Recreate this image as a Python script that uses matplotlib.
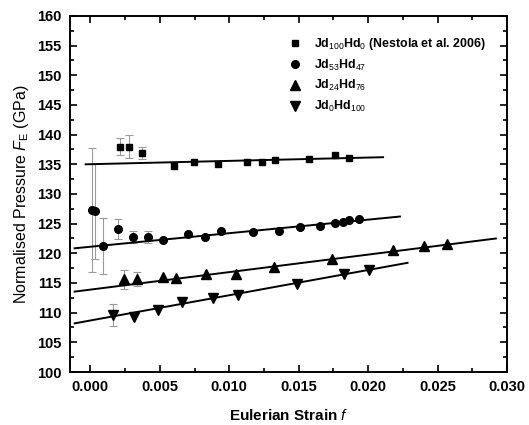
import matplotlib
matplotlib.use("Agg")
import matplotlib.pyplot as plt
from matplotlib.ticker import MultipleLocator
import numpy as np

plt.rcParams['font.family'] = ['Liberation Sans', 'DejaVu Sans']
plt.rcParams['mathtext.fontset'] = 'custom'
plt.rcParams['mathtext.rm'] = 'Liberation Sans'
plt.rcParams['mathtext.it'] = 'Liberation Sans:italic'
plt.rcParams['mathtext.bf'] = 'Liberation Sans:bold'

# ---- data ----
sq_x = [0.00211, 0.00278, 0.0037, 0.0060, 0.00744, 0.00922, 0.0113, 0.01237, 0.01333, 0.01573, 0.0176, 0.01859]
sq_y = [138.0, 138.0, 136.9, 134.7, 135.4, 135.05, 135.4, 135.4, 135.8, 135.9, 136.5, 136.1]
sq_err = [1.4, 2.0, 1.0, 0, 0, 0, 0, 0, 0, 0, 0, 0]

ci_x = [0.00012, 0.00036, 0.00091, 0.00199, 0.00307, 0.00415, 0.00523, 0.00701, 0.00829, 0.00939,
        0.0117, 0.01357, 0.01508, 0.01652, 0.01758, 0.01818, 0.01866, 0.01938]
ci_y = [127.3, 127.1, 121.2, 124.1, 122.8, 122.75, 122.25, 123.25, 122.8, 123.8,
        123.65, 123.7, 124.5, 124.6, 125.1, 125.2, 125.6, 125.8]
ci_err = [10.4, 8.0, 4.7, 1.7, 1.0, 1.0, 0, 0, 0, 0, 0, 0, 0, 0, 0, 0, 0, 0]

up_x = [0.00242, 0.00336, 0.00526, 0.0062, 0.00836, 0.01047, 0.01321, 0.01741, 0.02176, 0.02402, 0.0257]
up_y = [115.67, 115.67, 116.0, 115.85, 116.6, 116.5, 117.75, 119.0, 120.55, 121.2, 121.5]
up_err = [1.6, 1.2, 0, 0, 0, 0, 0, 0, 0, 0, 0]

dn_x = [0.00163, 0.00312, 0.0049, 0.00663, 0.00886, 0.01061, 0.01486, 0.01827, 0.02007]
dn_y = [109.6, 109.3, 110.45, 111.85, 112.5, 112.97, 114.8, 116.45, 117.2]
dn_err = [1.8, 0, 0, 0, 0, 0, 0, 0, 0]

# fitted lines (end points)
sq_fit_x = [-0.00034, 0.02108]
sq_fit_y = [135.0, 136.2]
ci_fit_x = [-0.00113, 0.02229]
ci_fit_y = [120.85, 126.2]
up_fit_x = [-0.00113, 0.0292]
up_fit_y = [113.55, 122.5]
dn_fit_x = [-0.00113, 0.02284]
dn_fit_y = [108.2, 118.4]

labels = [r'Jd$_{100}$Hd$_{0}$ (Nestola et al. 2006)', r'Jd$_{53}$Hd$_{47}$',
          r'Jd$_{24}$Hd$_{76}$', r'Jd$_{0}$Hd$_{100}$']

fig = plt.figure(figsize=(5.29, 4.25), dpi=100)
ax = fig.add_axes([0.1314, 0.1247, 0.8270, 0.8377])

series = [
    (sq_x, sq_y, sq_err, 's', 5.0, sq_fit_x, sq_fit_y),
    (ci_x, ci_y, ci_err, 'o', 5.5, ci_fit_x, ci_fit_y),
    (up_x, up_y, up_err, '^', 6.5, up_fit_x, up_fit_y),
    (dn_x, dn_y, dn_err, 'v', 6.5, dn_fit_x, dn_fit_y),
]
handles = []
for (x, y, e, m, ms, fx, fy), lab in zip(series, labels):
    x = np.array(x); y = np.array(y); e = np.array(e)
    mask = e > 0
    ax.errorbar(x[mask], y[mask], yerr=e[mask], fmt='none', ecolor='#9a9a9a',
                elinewidth=0.8, capsize=3, capthick=0.8, zorder=2)
    ax.plot(fx, fy, color='black', lw=1.4, zorder=3)
    h, = ax.plot(x, y, linestyle='none', marker=m, ms=ms, color='black', zorder=4, label=lab)
    handles.append(h)

ax.set_xlim(-0.0015, 0.030)
ax.set_ylim(100, 160)
ax.xaxis.set_major_locator(MultipleLocator(0.005))
ax.xaxis.set_minor_locator(MultipleLocator(0.0025))
ax.yaxis.set_major_locator(MultipleLocator(5))
ax.yaxis.set_minor_locator(MultipleLocator(2.5))
ax.xaxis.set_major_formatter(matplotlib.ticker.FormatStrFormatter('%.3f'))
ax.tick_params(which='both', direction='in', top=True, right=True, width=1.2)
ax.tick_params(which='major', length=5, labelsize=10.5, pad=6)
ax.tick_params(which='minor', length=3)
for lbl in ax.get_xticklabels() + ax.get_yticklabels():
    lbl.set_fontweight('bold')
for s in ax.spines.values():
    s.set_linewidth(1.4)

ax.set_xlabel(r'Eulerian Strain $\mathit{f}$', fontsize=11, fontweight='bold', labelpad=10)
ax.set_ylabel(r'Normalised Pressure $F_{\mathrm{E}}$ (GPa)', fontsize=11.5, labelpad=4)

leg = ax.legend(handles=handles, loc='upper left', bbox_to_anchor=(0.475, 0.975), frameon=False,
                handlelength=1.0, handletextpad=1.1, labelspacing=0.45,
                prop={'weight': 'bold', 'size': 8.9})

fig.savefig('out.png', dpi=100)
